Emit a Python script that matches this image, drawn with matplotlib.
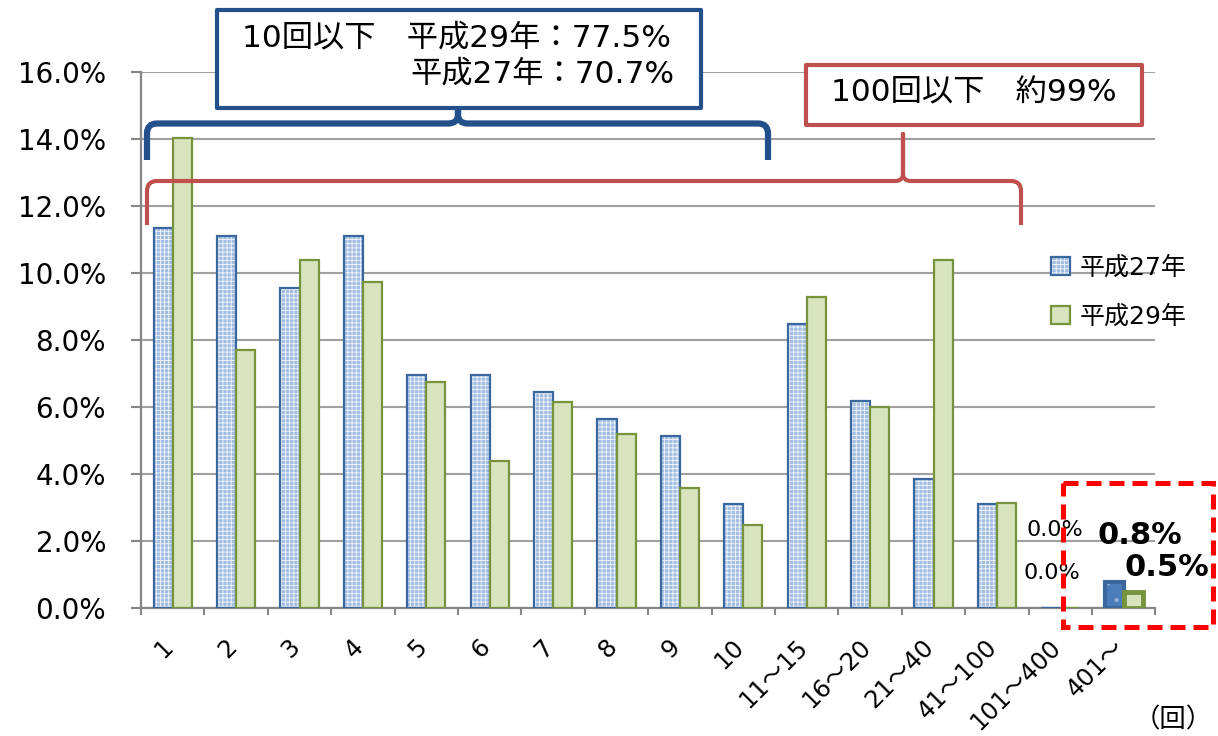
import numpy as np
import matplotlib
matplotlib.use("Agg")
import matplotlib.pyplot as plt
from matplotlib.patches import Rectangle, PathPatch, Patch
from matplotlib.path import Path
from matplotlib.transforms import Affine2D, ScaledTranslation
from matplotlib.ticker import FuncFormatter

plt.rcParams["font.family"] = ["DejaVu Sans", "Noto Sans CJK JP"]
plt.rcParams["hatch.linewidth"] = 0.6

# ---- data -------------------------------------------------------------
categories = ["1", "2", "3", "4", "5", "6", "7", "8", "9", "10",
              "11～15", "16～20", "21～40", "41～100", "101～400", "401～"]
h27 = [11.35, 11.1, 9.55, 11.1, 6.95, 6.95, 6.45, 5.65, 5.15, 3.1,
       8.5, 6.2, 3.85, 3.1, 0.0, 0.8]
h29 = [14.05, 7.7, 10.4, 9.75, 6.75, 4.4, 6.15, 5.2, 3.6, 2.5,
       9.3, 6.0, 10.4, 3.15, 0.0, 0.5]
series_names = ["平成27年", "平成29年"]
y_ticks = [0, 2, 4, 6, 8, 10, 12, 14, 16]
unit_label = "（回）"
note_10 = ["10回以下　平成29年：77.5%", "平成27年：70.7%"]
note_100 = "100回以下　約99%"

# ---- style ------------------------------------------------------------
W, H = 1218, 736
blue_fill, blue_hatch, blue_edge = "#A3BEE2", "#F2F6FB", "#3A679E"
blue_pattern = "++++"
green_fill, green_edge = "#D7E4BD", "#77933C"
grid_col = "#A0A0A0"
axis_col = "#868686"
navy = "#23508A"
brick = "#C0504D"

fig = plt.figure(figsize=(W / 100, H / 100), dpi=100)
fig.patch.set_facecolor("white")
# pixel-style coordinates (origin top-left) for the call-out shapes
T = Affine2D().scale(1 / W, -1 / H).translate(0, 1) + fig.transFigure

ax = fig.add_axes([141 / W, 1 - 608.3 / H, (1155.4 - 141) / W, (608.3 - 72.3) / H])

x = np.arange(len(categories))
w = 0.3

b1 = ax.bar(x - w / 2, h27, w, color=blue_fill, edgecolor=blue_hatch,
            hatch=blue_pattern, linewidth=0, zorder=2)
b1o = ax.bar(x - w / 2, h27, w, fill=False, edgecolor=blue_edge,
             linewidth=1.6, zorder=3)
b2 = ax.bar(x + w / 2, h29, w, color=green_fill, edgecolor=green_edge,
            linewidth=1.6, zorder=3)

# last group is drawn with heavier outlines
b1[-1].set_facecolor("#4A7DBA")
b1[-1].set_edgecolor("#8FB0DA")
b1[-1].set_hatch(".")
b1o[-1].set_linewidth(3)
b2[-1].set_linewidth(3.5)

ax.set_xlim(-0.5, len(categories) - 0.5)
ax.set_ylim(0, 16)
ax.set_yticks(y_ticks)
ax.yaxis.set_major_formatter(FuncFormatter(lambda v, p: f"{v:.1f}%"))
ax.yaxis.grid(True, color=grid_col, linewidth=1.5)
ax.set_axisbelow(True)

for s in ("top", "right"):
    ax.spines[s].set_visible(False)
for s in ("left", "bottom"):
    ax.spines[s].set_color(axis_col)
    ax.spines[s].set_linewidth(1.6)

ax.tick_params(axis="y", length=7.2, width=1.5, color=axis_col, pad=18,
               labelsize=20)
ax.set_xticks(x)
ax.set_xticklabels(categories, rotation=45, ha="right", va="center",
                   rotation_mode="anchor", fontsize=17.5)
ax.tick_params(axis="x", which="major", length=0, pad=25)
ax.set_xticks(np.arange(-0.5, len(categories), 1), minor=True)
ax.tick_params(axis="x", which="minor", length=5, width=1.5, color=axis_col)
shift = ScaledTranslation(-3 / 100, 0, fig.dpi_scale_trans)
for lab in ax.get_xticklabels():
    lab.set_transform(lab.get_transform() + shift)

# value labels for the two rightmost groups
i15 = categories.index("101～400")
i16 = categories.index("401～")
ax.annotate(f"{h27[i15]:.1f}%", xy=(x[i15] - w / 2, h27[i15]), xytext=(4, 78),
            textcoords="offset pixels", ha="center", va="center", fontsize=16,
            annotation_clip=False)
ax.annotate(f"{h29[i15]:.1f}%", xy=(x[i15] + w / 2, h29[i15]), xytext=(-18, 35),
            textcoords="offset pixels", ha="center", va="center", fontsize=16,
            annotation_clip=False)
ax.annotate(f"{h27[i16]:.1f}%", xy=(x[i16] - w / 2, h27[i16]), xytext=(26, 46),
            textcoords="offset pixels", ha="center", va="center", fontsize=22,
            fontweight="bold", annotation_clip=False)
ax.annotate(f"{h29[i16]:.1f}%", xy=(x[i16] + w / 2, h29[i16]), xytext=(34, 24),
            textcoords="offset pixels", ha="center", va="center", fontsize=22,
            fontweight="bold", annotation_clip=False)

# legend
blue_handle = (Patch(facecolor=blue_fill, edgecolor=blue_hatch, hatch=blue_pattern, linewidth=0),
               Patch(fill=False, edgecolor=blue_edge, linewidth=1.6))
green_handle = Patch(facecolor=green_fill, edgecolor=green_edge, linewidth=1.6)
fig.legend([blue_handle, green_handle], series_names, loc="upper left",
           bbox_to_anchor=(1051 / W, 1 - 256 / H), frameon=False, fontsize=18,
           handlelength=0.75, handleheight=0.75, handletextpad=0.4,
           labelspacing=1.0, borderpad=0, borderaxespad=0)

fig.text(1173, 720, unit_label, transform=T, ha="center", va="center", fontsize=19)


def brace(x0, x1, xc, y_leg, y_bar, y_tip, r, cusp):
    verts = [(x0, y_leg), (x0, y_bar + r), (x0, y_bar), (x0 + r, y_bar),
             (xc - cusp, y_bar), (xc, y_bar), (xc, y_bar - cusp * 0.9), (xc, y_tip),
             (xc, y_bar - cusp * 0.9), (xc, y_bar), (xc + cusp, y_bar),
             (x1 - r, y_bar), (x1, y_bar), (x1, y_bar + r), (x1, y_leg)]
    codes = [Path.MOVETO, Path.LINETO, Path.CURVE3, Path.CURVE3,
             Path.LINETO, Path.CURVE3, Path.CURVE3, Path.LINETO,
             Path.LINETO, Path.CURVE3, Path.CURVE3,
             Path.LINETO, Path.CURVE3, Path.CURVE3, Path.LINETO]
    return Path(verts, codes)


# 10-or-fewer call-out
fig.add_artist(Rectangle((217, 9.5), 484, 98.5, transform=T, facecolor="white",
                         edgecolor=navy, linewidth=3, joinstyle="round", zorder=5))
fig.text(242, 38, note_10[0], transform=T, ha="left", va="center", fontsize=22.5, zorder=6)
fig.text(674, 74, note_10[1], transform=T, ha="right", va="center", fontsize=22.5, zorder=6)
fig.add_artist(PathPatch(brace(147, 768, 458, 160, 123.5, 110, 10, 10), transform=T,
                         fill=False, edgecolor=navy, linewidth=4.5,
                         capstyle="butt", joinstyle="round", zorder=5))

# 100-or-fewer call-out
fig.add_artist(Rectangle((806, 65), 336, 60, transform=T, facecolor="white",
                         edgecolor=brick, linewidth=3, joinstyle="round", zorder=5))
fig.text(974, 93, note_100, transform=T, ha="center", va="center", fontsize=22.5, zorder=6)
fig.add_artist(PathPatch(brace(147, 1021, 903, 225, 181, 134, 10, 8), transform=T,
                         fill=False, edgecolor=brick, linewidth=3,
                         capstyle="butt", joinstyle="round", zorder=5))

# dashed highlight around the right-most groups
fig.add_artist(Rectangle((1063, 483), 150, 144, transform=T, fill=False,
                         edgecolor="#FF0000", linewidth=3.6,
                         linestyle=(0, (3.0, 1.6)), zorder=7))

fig.savefig("out.png", dpi=100)
